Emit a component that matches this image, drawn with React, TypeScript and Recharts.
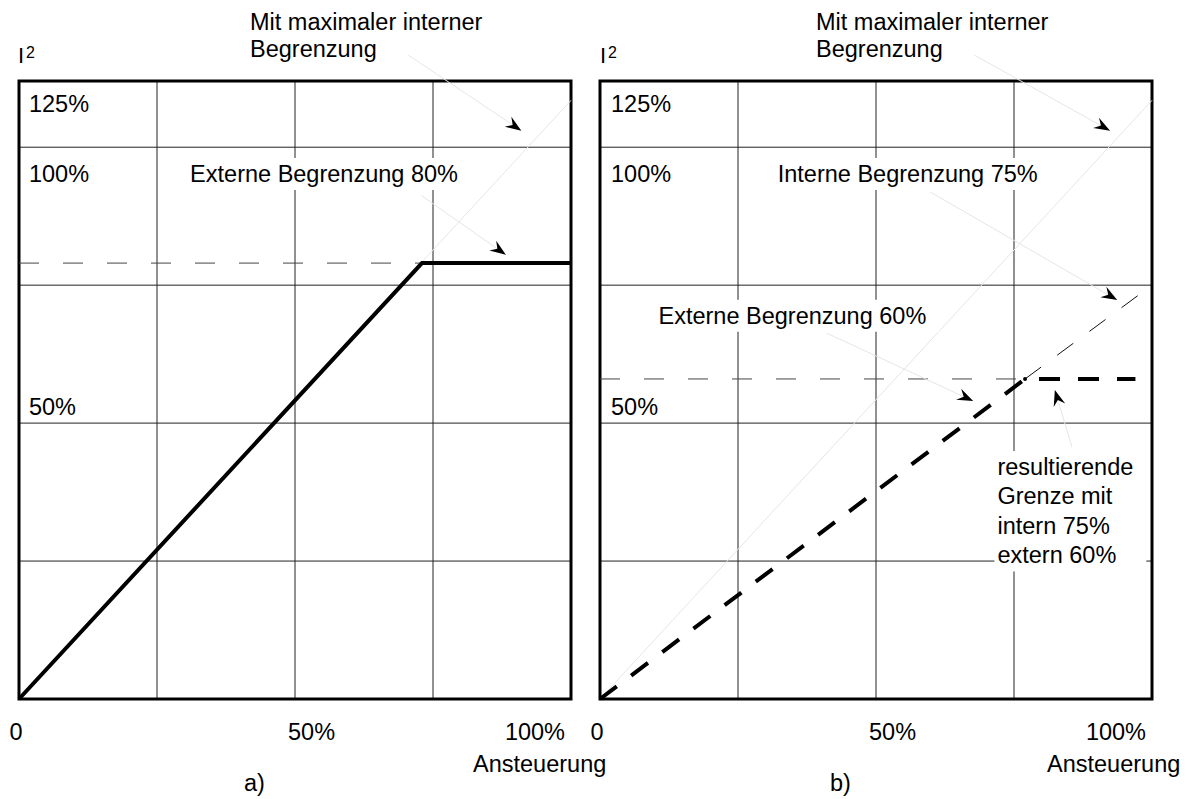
import React from "react";
import {
  LineChart,
  Line,
  XAxis,
  YAxis,
  CartesianGrid,
  ReferenceArea,
  ReferenceLine,
  ReferenceDot,
} from "recharts";

const FONT = '"Liberation Sans", Arial, Helvetica, sans-serif';
const FS = 23.5;
const LINE_H = 29.5;

// axes (Ansteuerung in %, I² in %)
const xTicks = [0, 25, 50, 75, 100];
const xTickLabels: Record<number, string> = { 0: "0", 50: "50%", 100: "100%" };
const yTicks = [25, 50, 75, 100];
const Y_MAX = 112;

// a) externe Begrenzung 80%
const grenzeAX = [0, 73, 100];
const grenzeAY = [0, 79, 79];
const externAX = [0, 73];
const externAY = [79, 79];

// Mit maximaler interner Begrenzung (faint, both panels)
const maxInternX = [0, 100];
const maxInternY = [0, 108.5];

// b) intern 75% / extern 60%
const resultBX = [0, 77, 97];
const resultBY = [0, 58, 58];
const internBX = [77, 100];
const internBY = [58, 75];
const externBX = [0, 77];
const externBY = [58, 58];
const kneeB = { x: 77, y: 58 };

const zip = (xs: number[], ys: number[]) => xs.map((x, i) => ({ x, y: ys[i] }));

// in-plot text, anchored at data coordinates (left / baseline)
type Note = { lines: string[]; x: number; y: number; box?: boolean };
const notesA: Note[] = [
  { lines: ["125%"], x: 1.8, y: 106.4 },
  { lines: ["100%"], x: 1.8, y: 93.7 },
  { lines: ["50%"], x: 1.8, y: 51.5 },
  { lines: ["Externe Begrenzung 80%"], x: 31, y: 93.7, box: true },
];
const notesB: Note[] = [
  { lines: ["125%"], x: 2, y: 106.4 },
  { lines: ["100%"], x: 2, y: 93.7 },
  { lines: ["50%"], x: 2, y: 51.5 },
  { lines: ["Interne Begrenzung 75%"], x: 32.2, y: 93.7, box: true },
  { lines: ["Externe Begrenzung 60%"], x: 10.6, y: 68, box: true },
  {
    lines: ["resultierende", "Grenze mit", "intern 75%", "extern 60%"],
    x: 72,
    y: 40.6,
    box: true,
  },
];

// leader lines with arrow heads: [from, to]
type Arrow = [{ x: number; y: number }, { x: number; y: number }];
const arrowsA: Arrow[] = [
  [{ x: 70.5, y: 116.7 }, { x: 91, y: 103 }],
  [{ x: 72.8, y: 91.3 }, { x: 88.2, y: 80.5 }],
];
const arrowsB: Arrow[] = [
  [{ x: 67.8, y: 116.7 }, { x: 92.4, y: 103 }],
  [{ x: 59.8, y: 91.9 }, { x: 93.7, y: 72.3 }],
  [{ x: 41.1, y: 66.3 }, { x: 67.6, y: 54 }],
  [{ x: 85.5, y: 45.7 }, { x: 82.4, y: 56 }],
];

let ctx: CanvasRenderingContext2D | null = null;
const measure = (t: string) => {
  if (!ctx) ctx = document.createElement("canvas").getContext("2d");
  if (!ctx) return t.length * FS * 0.5;
  ctx.font = `${FS}px "Liberation Sans"`;
  return ctx.measureText(t).width;
};

const noteShape = (n: Note) => (props: any) => {
  const { cx, cy } = props;
  const w = Math.max(...n.lines.map(measure));
  const h = (n.lines.length - 1) * LINE_H;
  return (
    <g>
      {n.box && <rect x={cx - 3} y={cy - 24} width={w + 16} height={h + 32} fill="#fff" />}
      <text x={cx} y={cy} fontFamily={FONT} fontSize={FS} fill="#000">
        {n.lines.map((l, i) => (
          <tspan key={i} x={cx} y={cy + i * LINE_H}>
            {l}
          </tspan>
        ))}
      </text>
    </g>
  );
};

const arrowShape = (props: any) => {
  const { x1, y1, x2, y2 } = props;
  const len = Math.hypot(x2 - x1, y2 - y1) || 1;
  const ux = (x2 - x1) / len;
  const uy = (y2 - y1) / len;
  const nx = -uy;
  const ny = ux;
  const L = 16;
  const W = 6;
  const bx = x2 - L * ux;
  const by = y2 - L * uy;
  const pts = [
    [x2, y2],
    [bx + W * nx, by + W * ny],
    [x2 - 0.65 * L * ux, y2 - 0.65 * L * uy],
    [bx - W * nx, by - W * ny],
  ]
    .map((p) => p.join(","))
    .join(" ");
  return (
    <g>
      <line x1={x1} y1={y1} x2={x2} y2={y2} stroke="#e6e6e6" strokeWidth={1} />
      <polygon points={pts} fill="#000" />
    </g>
  );
};

const XTick = (props: any) => {
  const { x, y, payload } = props;
  const v = payload.value;
  const label = xTickLabels[v];
  if (!label) return null;
  const anchor = v === 0 ? "middle" : v === 100 ? "end" : "start";
  const dx = v === 0 ? -3 : v === 100 ? -6 : -7;
  return (
    <text x={x + dx} y={y + 41} textAnchor={anchor} fontFamily={FONT} fontSize={FS} fill="#000">
      {label}
    </text>
  );
};

function Panel({ children, notes, arrows }: { children: React.ReactNode; notes: Note[]; arrows: Arrow[] }) {
  return (
    <LineChart width={600} height={799} margin={{ top: 81, right: 29, bottom: 0, left: 19 }}>
      <XAxis
        type="number"
        dataKey="x"
        domain={[0, 100]}
        ticks={xTicks}
        height={100}
        axisLine={false}
        tickLine={false}
        tickSize={0}
        tickMargin={0}
        tick={<XTick />}
        interval={0}
      />
      <YAxis type="number" dataKey="y" domain={[0, Y_MAX]} ticks={yTicks} hide width={0} />
      <CartesianGrid stroke="#222" strokeWidth={1} />
      {notes.map((n, i) => (
        <ReferenceDot key={"n" + i} x={n.x} y={n.y} r={1} ifOverflow="visible" shape={noteShape(n)} />
      ))}
      <Line
        data={zip(maxInternX, maxInternY)}
        dataKey="y"
        stroke="#e6e6e6"
        strokeWidth={1}
        dot={false}
        activeDot={false}
        isAnimationActive={false}
      />
      {children}
      {arrows.map((a, i) => (
        <ReferenceLine key={"a" + i} segment={a} ifOverflow="visible" shape={arrowShape} />
      ))}
      <ReferenceArea
        x1={0}
        x2={100}
        y1={0}
        y2={Y_MAX}
        fill="none"
        fillOpacity={0}
        stroke="#000"
        strokeWidth={3}
        ifOverflow="visible"
      />
    </LineChart>
  );
}

const Title = ({ x, ix, ax, tag, tagX }: { x: number; ix: number; ax: number; tag: string; tagX: number }) => (
  <g fontFamily={FONT} fill="#000">
    <text x={ix} y={63} fontSize={22}>
      I
    </text>
    <text x={ix + 8} y={58} fontSize={16}>
      2
    </text>
    <text x={x} y={30} fontSize={FS}>
      Mit maximaler interner
    </text>
    <text x={x} y={57} fontSize={FS}>
      Begrenzung
    </text>
    <text x={ax} y={772} fontSize={FS}>
      Ansteuerung
    </text>
    <text x={tagX} y={791} fontSize={FS}>
      {tag}
    </text>
  </g>
);

export default function App() {
  return (
    <div
      style={{
        position: "absolute",
        left: 0,
        top: 0,
        width: 1194,
        height: 799,
        background: "#fff",
        fontFamily: FONT,
        overflow: "hidden",
      }}
    >
      <div style={{ position: "absolute", left: 0, top: 0 }}>
        <Panel notes={notesA} arrows={arrowsA}>
          <Line
            data={zip(externAX, externAY)}
            dataKey="y"
            stroke="#444"
            strokeWidth={1}
            strokeDasharray="20 24"
            dot={false}
            activeDot={false}
            isAnimationActive={false}
          />
          <Line
            data={zip(grenzeAX, grenzeAY)}
            dataKey="y"
            stroke="#000"
            strokeWidth={4}
            dot={false}
            activeDot={false}
            isAnimationActive={false}
          />
        </Panel>
      </div>
      <div style={{ position: "absolute", left: 581, top: 0 }}>
        <Panel notes={notesB} arrows={arrowsB}>
          <Line
            data={zip(externBX, externBY)}
            dataKey="y"
            stroke="#444"
            strokeWidth={1}
            strokeDasharray="20 24"
            dot={false}
            activeDot={false}
            isAnimationActive={false}
          />
          <Line
            data={zip(internBX, internBY)}
            dataKey="y"
            stroke="#111"
            strokeWidth={1}
            strokeDasharray="20 20"
            dot={false}
            activeDot={false}
            isAnimationActive={false}
          />
          <Line
            data={zip(resultBX, resultBY)}
            dataKey="y"
            stroke="#000"
            strokeWidth={4}
            strokeDasharray="21 18"
            dot={false}
            activeDot={false}
            isAnimationActive={false}
          />
          <ReferenceDot x={kneeB.x} y={kneeB.y} r={2} fill="#000" stroke="none" />
        </Panel>
      </div>
      <svg
        width={1194}
        height={799}
        style={{ position: "absolute", left: 0, top: 0, pointerEvents: "none" }}
      >
        <Title x={250} ix={18} ax={473} tag="a)" tagX={244} />
        <Title x={816} ix={600} ax={1047} tag="b)" tagX={830} />
      </svg>
    </div>
  );
}
